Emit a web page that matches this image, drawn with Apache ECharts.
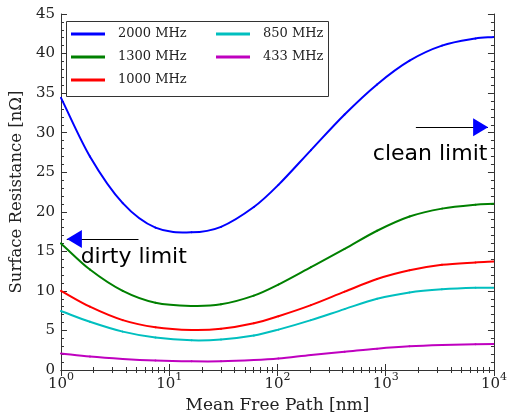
<!DOCTYPE html>
<html>
<head>
<meta charset="utf-8">
<script src="https://cdn.jsdelivr.net/npm/echarts@6/dist/echarts.min.js"></script>
<style>
  html, body { margin: 0; padding: 0; background: #fff; }
  #chart { width: 510px; height: 419px; }
</style>
</head>
<body>
<div id="chart"></div>
<script>
// Mean free path (nm), shared sampling points for all curves
const meanFreePath = [1, 1.85, 3.72, 7.46, 16.1, 30.1, 60.5, 102, 204, 417, 832, 1660, 3310, 6760, 10000];

// Surface resistance (nΩ) per frequency
const rs2000 = [34.4, 27.0, 21.1, 18.0, 17.4, 18.1, 20.6, 23.4, 27.8, 32.3, 36.1, 39.1, 41.0, 41.9, 42.1];
const rs1300 = [16.0, 12.7, 10.0, 8.5, 8.1, 8.3, 9.4, 10.8, 13.0, 15.3, 17.6, 19.4, 20.4, 20.9, 21.0];
const rs1000 = [10.0, 8.0, 6.3, 5.4, 5.05, 5.2, 5.9, 6.8, 8.2, 9.9, 11.5, 12.6, 13.3, 13.6, 13.7];
const rs850  = [7.45, 6.1, 4.85, 4.1, 3.75, 3.85, 4.35, 5.1, 6.3, 7.7, 9.0, 9.8, 10.2, 10.4, 10.4];
const rs433  = [2.1, 1.7, 1.4, 1.2, 1.1, 1.1, 1.25, 1.45, 1.9, 2.3, 2.7, 3.0, 3.16, 3.25, 3.3];

const seriesNames = ['2000 MHz', '1300 MHz', '1000 MHz', '850 MHz', '433 MHz'];
const seriesColors = ['#0000ff', '#008000', '#ff0000', '#00bfbf', '#bf00bf'];
const seriesValues = [rs2000, rs1300, rs1000, rs850, rs433];

// y ticks and x decades
const yTicks = [0, 5, 10, 15, 20, 25, 30, 35, 40, 45];
const xDecades = [1, 10, 100, 1000, 10000];

const frameColor = '#333';
const serif = 'DejaVu Serif';

const chart = echarts.init(document.getElementById('chart'), null, { renderer: 'canvas' });

function pairs(ys) {
  return meanFreePath.map((x, i) => [x, ys[i]]);
}

// Draws a curve through the points of one series as piecewise cubic Hermite
// segments, with points placed by the axes via api.coord.
function curveRenderer(values, color) {
  return function (params, api) {
    if (params.dataIndex !== 0) return null;
    const pts = values.map((v, i) => api.coord([meanFreePath[i], v]));
    const n = pts.length;
    const slope = pts.map((p, i) => {
      const a = pts[Math.max(i - 1, 0)];
      const b = pts[Math.min(i + 1, n - 1)];
      return (b[1] - a[1]) / (b[0] - a[0]);
    });
    const children = [];
    for (let i = 0; i < n - 1; i++) {
      const p = pts[i], q = pts[i + 1];
      const h = (q[0] - p[0]) / 3;
      children.push({
        type: 'bezierCurve',
        shape: {
          x1: p[0], y1: p[1],
          cpx1: p[0] + h, cpy1: p[1] + slope[i] * h,
          cpx2: q[0] - h, cpy2: q[1] - slope[i + 1] * h,
          x2: q[0], y2: q[1]
        },
        style: { stroke: color, lineWidth: 2, fill: null, lineCap: 'round' },
        silent: true
      });
    }
    return { type: 'group', children: children };
  };
}

const series = seriesNames.map((name, i) => ({
  name: name,
  type: 'custom',
  xAxisIndex: 0,
  yAxisIndex: 0,
  data: pairs(seriesValues[i]),
  encode: { x: 0, y: 1 },
  renderItem: curveRenderer(seriesValues[i], seriesColors[i]),
  itemStyle: { color: seriesColors[i] },
  clip: true,
  z: 3
}));

// Annotation arrows: black shaft with blue head, and their captions
series.push({
  name: 'limits',
  type: 'line',
  xAxisIndex: 0,
  yAxisIndex: 0,
  data: [],
  symbol: 'none',
  z: 4,
  markLine: {
    silent: true,
    symbol: ['none', 'none'],
    label: { show: false },
    lineStyle: { color: '#000', width: 1.2, type: 'solid' },
    emphasis: { disabled: true },
    data: [
      [{ coord: [1900, 30.7] }, { coord: [8800, 30.7] }],
      [{ coord: [5.2, 16.56] }, { coord: [1.13, 16.56] }]
    ]
  },
  markPoint: {
    silent: true,
    data: [
      { coord: [7530, 30.7], symbol: 'triangle', symbolSize: [18, 15], symbolRotate: -90,
        itemStyle: { color: '#0000ff' }, label: { show: false } },
      { coord: [1.33, 16.56], symbol: 'triangle', symbolSize: [18, 15], symbolRotate: 90,
        itemStyle: { color: '#0000ff' }, label: { show: false } },
      { coord: [2570, 27.3], symbol: 'circle', symbolSize: 1,
        itemStyle: { color: 'rgba(0,0,0,0)' },
        label: { show: true, position: 'inside', formatter: 'clean limit',
                 fontFamily: 'DejaVu Sans', fontSize: 22, color: '#000' } },
      { coord: [4.7, 14.3], symbol: 'circle', symbolSize: 1,
        itemStyle: { color: 'rgba(0,0,0,0)' },
        label: { show: true, position: 'inside', formatter: 'dirty limit',
                 fontFamily: 'DejaVu Sans', fontSize: 22, color: '#000' } }
    ]
  }
});

const legendCommon = {
  orient: 'vertical',
  padding: 0,
  itemWidth: 34,
  itemHeight: 3,
  itemGap: 7,
  selectedMode: false,
  icon: 'rect',
  textStyle: { fontFamily: serif, fontSize: 13, lineHeight: 16, color: '#222', padding: [0, 0, 0, 8] }
};

const option = {
  animation: false,
  backgroundColor: '#fff',
  grid: { left: 59, right: 11, top: 14, bottom: 49, containLabel: false },
  legend: [
    Object.assign({}, legendCommon, { left: 71, top: 26, data: seriesNames.slice(0, 3) }),
    Object.assign({}, legendCommon, { left: 216, top: 26, data: seriesNames.slice(3) })
  ],
  graphic: [{
    type: 'rect',
    z: 0,
    zlevel: 0,
    shape: { x: 66.5, y: 21.5, width: 262, height: 75 },
    style: { fill: '#fff', stroke: frameColor, lineWidth: 1 }
  }],
  xAxis: [
    {
      type: 'log', logBase: 10, min: xDecades[0], max: xDecades[xDecades.length - 1],
      position: 'bottom',
      name: 'Mean Free Path [nm]', nameLocation: 'middle', nameGap: 24,
      nameTextStyle: { fontFamily: serif, fontSize: 17, color: '#222' },
      axisLine: { show: true, lineStyle: { color: frameColor, width: 1 } },
      axisTick: { show: true, inside: true, length: 6, lineStyle: { color: frameColor } },
      minorTick: { show: true, splitNumber: 9, length: 3, lineStyle: { color: frameColor } },
      splitLine: { show: false },
      axisLabel: {
        margin: 2,
        formatter: v => '{b|10}{s|' + Math.round(Math.log10(v)) + '}',
        rich: {
          b: { fontFamily: serif, fontSize: 15, color: '#222', padding: [5, 0, 0, 0] },
          s: { fontFamily: serif, fontSize: 11, color: '#222', verticalAlign: 'top' }
        }
      }
    },
    {
      type: 'log', logBase: 10, min: xDecades[0], max: xDecades[xDecades.length - 1],
      position: 'top',
      axisLine: { show: true, lineStyle: { color: frameColor, width: 1 } },
      axisTick: { show: true, inside: true, length: 6, lineStyle: { color: frameColor } },
      minorTick: { show: true, splitNumber: 9, length: 3, lineStyle: { color: frameColor } },
      splitLine: { show: false },
      axisLabel: { show: false }
    }
  ],
  yAxis: [
    {
      type: 'value', min: yTicks[0], max: yTicks[yTicks.length - 1], interval: 5,
      position: 'left',
      name: 'Surface Resistance [nΩ]', nameLocation: 'middle', nameGap: 32, nameRotate: 90,
      nameTextStyle: { fontFamily: serif, fontSize: 16.5, color: '#222' },
      axisLine: { show: true, lineStyle: { color: frameColor, width: 1 } },
      axisTick: { show: true, inside: true, length: 6, lineStyle: { color: frameColor } },
      minorTick: { show: true, splitNumber: 5, length: 3, lineStyle: { color: frameColor } },
      splitLine: { show: false },
      axisLabel: { margin: 6, fontFamily: serif, fontSize: 15, color: '#222' }
    },
    {
      type: 'value', min: yTicks[0], max: yTicks[yTicks.length - 1], interval: 5,
      position: 'right',
      axisLine: { show: true, lineStyle: { color: frameColor, width: 1 } },
      axisTick: { show: true, inside: true, length: 6, lineStyle: { color: frameColor } },
      minorTick: { show: true, splitNumber: 5, length: 3, lineStyle: { color: frameColor } },
      splitLine: { show: false },
      axisLabel: { show: false }
    }
  ],
  series: series
};

chart.setOption(option);
</script>
</body>
</html>
